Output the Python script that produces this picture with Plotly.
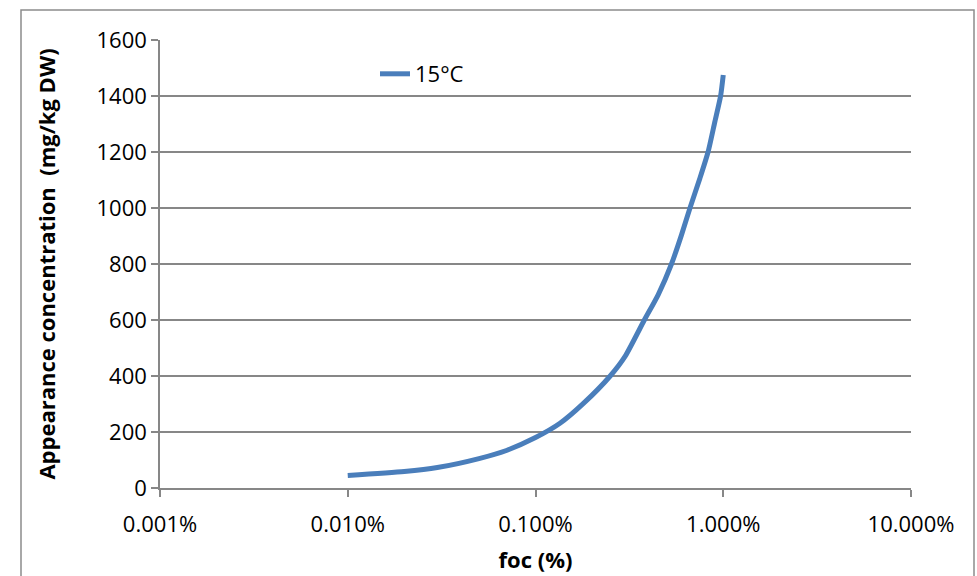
import plotly.graph_objects as go

# foc values (fraction, i.e. 0.0001 = 0.010%)
foc_pct = [0.01, 0.02, 0.03, 0.05, 0.07, 0.1, 0.135, 0.18, 0.25, 0.3, 0.38, 0.45,
           0.53, 0.6, 0.665, 0.75, 0.83, 0.9, 0.968, 1.0]
conc = [45, 59, 73, 105, 134, 180, 231, 302, 400, 470, 600, 690,
        800, 905, 1000, 1105, 1200, 1305, 1400, 1475]
foc = [v / 100 for v in foc_pct]
series_name = "15°C"
x_ticks = [1e-5, 1e-4, 1e-3, 1e-2, 1e-1]
y_ticks = [0, 200, 400, 600, 800, 1000, 1200, 1400, 1600]

L, R, T, B = 160, 911, 40, 488
W, H = 977, 576
grid = "#878787"
fs = 22

fig = go.Figure()
fig.add_trace(go.Scatter(x=foc, y=conc, mode="lines", name=series_name,
                         line=dict(color="#4a7ebb", width=5, shape="spline", smoothing=0.6)))

def px_x(p):
    return (p - L) / (R - L)

def px_y(p):
    return (B - p) / (B - T)

fig.update_layout(
    width=W, height=H,
    margin=dict(l=L, r=W - R, t=T, b=H - B),
    paper_bgcolor="white", plot_bgcolor="white",
    font=dict(family="Open Sans, Liberation Sans, sans-serif", size=fs, color="#000000"),
    showlegend=True,
    legend=dict(x=px_x(375), y=px_y(74), xanchor="left", yanchor="middle",
                bgcolor="rgba(0,0,0,0)", font=dict(size=fs)),
    xaxis=dict(type="log", range=[-5, -1], tickvals=x_ticks, tickformat=".3%",
               showgrid=False, zeroline=False, showline=True, linecolor=grid, linewidth=1.5,
               ticks="outside", ticklen=7, tickcolor=grid, tickwidth=1.5,
               ticklabelstandoff=9, tickfont=dict(size=fs), automargin=False,
               title=dict(text="<b>foc (%)</b>", font=dict(size=fs), standoff=15)),
    yaxis=dict(range=[0, 1600], tickvals=y_ticks, showgrid=True, gridcolor=grid, gridwidth=1.5,
               zeroline=False, showline=True, linecolor=grid, linewidth=1.5,
               ticks="outside", ticklen=7, tickcolor=grid, tickwidth=1.5,
               tickfont=dict(size=fs), automargin=False,
               title=dict(text="<b>Appearance concentration  (mg/kg DW)</b>", font=dict(size=fs), standoff=35)),
    shapes=[dict(type="rect", xref="paper", yref="paper",
                 x0=px_x(21), x1=px_x(974), y0=px_y(620), y1=px_y(10),
                 line=dict(color="#8c8c8c", width=1.5), fillcolor="rgba(0,0,0,0)", layer="below")],
)

fig.write_html("out.html")
